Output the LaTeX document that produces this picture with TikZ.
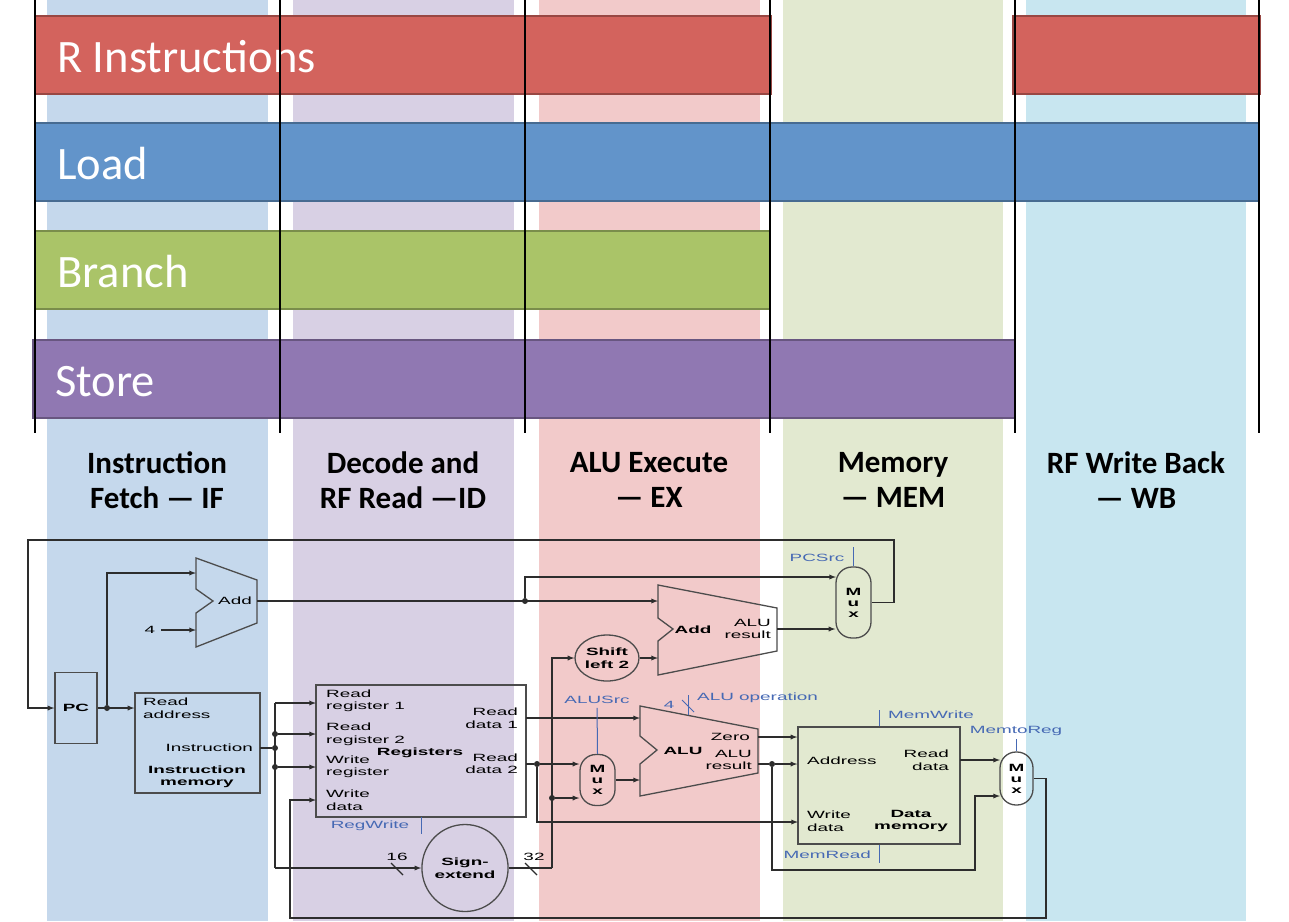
\documentclass[tikz,border=0pt]{standalone}
\usepackage{fontspec}
\setmainfont{Carlito}
\newfontfamily\dpfont[FakeStretch=1.8]{Liberation Sans}
\usetikzlibrary{shapes.geometric}
\definecolor{colIF}{RGB}{197,216,236}
\definecolor{colID}{RGB}{216,208,228}
\definecolor{colEX}{RGB}{242,202,202}
\definecolor{colMEM}{RGB}{226,233,208}
\definecolor{colWB}{RGB}{200,230,240}
\definecolor{barR}{RGB}{211,99,93}
\definecolor{barL}{RGB}{98,148,202}
\definecolor{barB}{RGB}{170,196,104}
\definecolor{barS}{RGB}{144,120,178}
\definecolor{wirecol}{RGB}{45,45,45}
\definecolor{ctrlcol}{RGB}{70,105,180}

\begin{document}
\begin{tikzpicture}[x=1pt, y=-1pt, >=latex,
	instbar/.style={draw=#1!72!black, fill=#1, line width=2.5pt},
	bartext/.style={anchor=west, text=white, inner sep=0pt, font=\fontsize{46.5}{50}\selectfont},
	stage/.style={align=center, font=\bfseries\fontsize{31}{35}\selectfont},
	dp/.style={inner sep=0pt, font=\dpfont\fontsize{10.5}{12.5}\selectfont},
	dpb/.style={dp, font=\dpfont\bfseries\fontsize{10.5}{12.5}\selectfont},
	unit/.style={draw=wirecol!85, line width=1.3pt, inner sep=0pt},
	mux/.style={unit, rounded corners=16pt, minimum width=35, minimum height=#1, align=center, font=\dpfont\bfseries\fontsize{10.5}{11}\selectfont},
	wire/.style={draw=wirecol, line width=1.3pt},
	ctrl/.style={draw=ctrlcol, line width=1pt},
	ctrltext/.style={dp, text=ctrlcol},
	dot/.style={circle, fill=wirecol, inner sep=0pt, minimum size=6pt}]
				\useasboundingbox (0,0) rectangle (1289,921);
				\fill[colIF] (47,0) rectangle (268,921);
				\fill[colID] (293,0) rectangle (514,921);
				\fill[colEX] (539,0) rectangle (760,921);
				\fill[colMEM] (783,0) rectangle (1003,921);
				\fill[colWB] (1026,0) rectangle (1246,921);
				\draw[instbar=barR] (35,16) rectangle (771,94);
				\draw[instbar=barR] (1013,16) rectangle (1260,94);
				\draw[instbar=barL] (35,123) rectangle (1259,201);
				\draw[instbar=barB] (35,231) rectangle (770,309);
				\draw[instbar=barS] (33,340) rectangle (1015,418);
				\node[bartext] (rinst) at (57,57) {R Instructions};
				\node[bartext] (load) at (57,164) {Load};
				\node[bartext] (branch) at (57,272) {Branch};
				\node[bartext] (store) at (55,382) {Store};
				\foreach \x in {35,280,525,770,1015,1259}
					\draw[line width=1.5pt] (\x,0) -- (\x,433);
				\node[stage] (hif) at (157,480) {Instruction\\Fetch — IF};
				\node[stage] (hid) at (403,480) {Decode and\\RF Read —ID};
				\node[stage] (hex) at (649,480) {ALU Execute\\— EX};
				\node[stage] (hmem) at (893,480) {Memory\\— MEM};
				\node[stage] (hwb) at (1136,480) {RF Write Back\\— WB};
				\node[unit, dpb, minimum width=42, minimum height=71] (pc) at (76,708) {PC};
				\node[unit, minimum width=125, minimum height=100] (imem) at (197.5,743) {};
				\node[dp, anchor=west, align=left] (imemra) at (143,708) {Read\\address};
				\node[dp, anchor=east] (imemin) at (253,748) {Instruction};
				\node[dpb, align=center] (imemname) at (197,777) {Instruction\\memory};
				\draw[unit] (196,558) -- (257,580) -- (257,623) -- (196,647) -- (196,613) -- (213,601) -- (196,589) -- cycle;
				\node[dp] (add1) at (235,601) {Add};
				\coordinate (add1in1) at (196,573);
				\coordinate (add1in2) at (196,630);
				\coordinate (add1out) at (257,601);
				\node[dp, inner xsep=6pt] (four) at (150,630) {4};
				\node[unit, minimum width=210, minimum height=132] (regs) at (421,751) {};
				\node[dp, anchor=west, align=left] (rr1t) at (326,701) {Read\\register 1};
				\node[dp, anchor=west, align=left] (rr2t) at (326,734.5) {Read\\register 2};
				\node[dp, anchor=west, align=left] (wrt) at (326,767) {Write\\register};
				\node[dp, anchor=west, align=left] (wdt) at (326,800) {Write\\data};
				\node[dpb] (regname) at (420,753) {Registers};
				\node[dp, anchor=east, align=right] (rd1t) at (518,718) {Read\\data 1};
				\node[dp, anchor=east, align=right] (rd2t) at (518,763.5) {Read\\data 2};
				\coordinate (rr1) at (316,703);
				\coordinate (rr2) at (316,734);
				\coordinate (wr) at (316,767);
				\coordinate (rwd) at (316,800);
				\coordinate (rd1) at (526,718);
				\coordinate (rd2) at (526,764);
				\node[unit, ellipse, dpb, align=center, minimum width=80, minimum height=87] (sext) at (465,868) {Sign-\\extend};
				\node[unit, ellipse, dpb, align=center, minimum width=64, minimum height=46] (shl) at (607,658) {Shift\\left 2};
				\draw[unit] (658,585) -- (777,608) -- (777,651) -- (658,675) -- (658,641) -- (673,629) -- (658,618) -- cycle;
				\node[dpb] (add2) at (693,630) {Add};
				\node[dp, anchor=east, align=right] (add2res) at (771,629) {ALU\\result};
				\coordinate (add2in1) at (658,601);
				\coordinate (add2in2) at (658,658);
				\coordinate (add2out) at (777,629);
				\draw[unit] (640,706) -- (758,729) -- (758,773) -- (640,796) -- (640,764) -- (657,750) -- (640,736) -- cycle;
				\node[dpb] (alu) at (683,751) {ALU};
				\node[dp, anchor=east] (zerot) at (750,737) {Zero};
				\node[dp, anchor=east, align=right] (alures) at (752,760) {ALU\\result};
				\coordinate (aluin1) at (640,718);
				\coordinate (aluin2) at (640,780);
				\coordinate (aluzero) at (758,737);
				\coordinate (aluout) at (758,764);
				\node[mux=71] (pcmux) at (853.5,602.5) {M\\u\\x};
				\node[mux=51] (srcmux) at (597.5,780) {M\\u\\x};
				\node[mux=53, minimum width=33] (wbmux) at (1016.5,778.5) {M\\u\\x};
				\coordinate (pcmuxin0) at (836,577);
				\node[unit, minimum width=162, minimum height=117] (dmem) at (879,785.5) {};
				\node[dp, anchor=west] (addrt) at (807,761) {Address};
				\node[dp, anchor=east, align=right] (dmrdt) at (949,760) {Read\\data};
				\node[dp, anchor=west, align=left] (dmwdt) at (807,821) {Write\\data};
				\node[dpb, align=center] (dmname) at (911,821) {Data\\memory};
				\coordinate (dmrd) at (960,760);
				\coordinate (dmwd) at (798,822);
				\coordinate (wbin0) at (1000,760);
				\coordinate (wbin1) at (1000,796);
				\coordinate (loopr) at (894,540);
				\coordinate (loopl) at (28,540);
				\node[dot] (pcdot) at (107,708) {};
				\node[dot] (pcpdot) at (525,601) {};
				\coordinate (instout) at (260,748);
				\node[dot] (ibus) at (275,748) {};
				\coordinate (ibtop) at (275,703);
				\coordinate (ibbot) at (275,868);
				\node[dot] (rr2dot) at (275,734) {};
				\node[dot] (wrdot) at (275,767) {};
				\coordinate (sxcorner) at (552,868);
				\node[dot] (immdot) at (552,798) {};
				\node[dot] (rd2dot) at (537,764) {};
				\node[dot] (resdot) at (772,764) {};
				\coordinate (bypc) at (975,870);
				\coordinate (wbcorner) at (1046,918);
				\coordinate (wdcorner) at (290,800);
				\draw[wire,->] (pcmux.east) -| (loopr) -- (loopl) |- (pc.west);
				\draw[wire,->] (pc.east) -- (pc.east -| imem.west);
				\draw[wire,->] (pcdot) |- (add1in1);
				\draw[wire,->] (four) -- (add1in2);
				\draw[wire,->] (add1out) -- (add2in1);
				\draw[wire,->] (pcpdot) |- (pcmuxin0);
				\draw[wire,->] (add2out) -- (add2out -| pcmux.west);
				\draw[wire] (instout) -- (ibus);
				\draw[wire] (ibtop) -- (ibbot);
				\draw[wire,->] (ibtop) -- (rr1);
				\draw[wire,->] (rr2dot) -- (rr2);
				\draw[wire,->] (wrdot) -- (wr);
				\draw[wire,->] (ibbot) -- (sext.west);
				\draw[wire] (391,863) -- (403,875);
				\node[dp] (w16) at (397,857) {16};
				\draw[wire] (sext.east) -- (sxcorner);
				\draw[wire,->] (sxcorner) |- (shl.west);
				\draw[wire] (525,863) -- (537,875);
				\node[dp] (w32) at (534,857) {32};
				\draw[wire,->] (immdot) -- (immdot -| srcmux.west);
				\draw[wire,->] (shl.east) -- (add2in2);
				\draw[wire,->] (rd1) -- (aluin1);
				\draw[wire] (rd2) -- (rd2dot);
				\draw[wire,->] (rd2dot) -- (rd2dot -| srcmux.west);
				\draw[wire,->] (rd2dot) |- (dmwd);
				\draw[wire,->] (srcmux.east) -- (aluin2);
				\draw[wire,->] (aluzero) -- (aluzero -| dmem.west);
				\draw[wire] (aluout) -- (resdot);
				\draw[wire,->] (resdot) -- (resdot -| dmem.west);
				\draw[wire,->] (resdot) |- (bypc) |- (wbin1);
				\draw[wire,->] (dmrd) -- (wbin0);
				\draw[wire,->] (wbmux.east) -| (wbcorner) -| (wdcorner) -- (rwd);
				\node[ctrltext] (pcsrc) at (817,558) {PCSrc};
				\draw[ctrl] (pcmux.north) -- ++(0,-19);
				\node[ctrltext] (alusrc) at (597,700) {ALUSrc};
				\draw[ctrl, shorten <=4pt] (alusrc.south) -- (srcmux.north);
				\coordinate (aluop) at (688,715);
				\draw[ctrl] (aluop) -- ++(0,-20);
				\draw[ctrl] (682,700) -- (694,712);
				\node[ctrltext] (opw) at (669,705) {4};
				\node[ctrltext, anchor=west] (aluopt) at (697,698) {ALU operation};
				\coordinate (rwtick) at (421,817);
				\draw[ctrl] (rwtick) -- ++(0,17);
				\node[ctrltext] (regwrite) at (370,826) {RegWrite};
				\draw[ctrl] (dmem.north) -- ++(0,-16);
				\node[ctrltext, anchor=west] (memwrite) at (888,715) {MemWrite};
				\draw[ctrl] (dmem.south) -- ++(0,18);
				\node[ctrltext, anchor=east] (memread) at (871,855) {MemRead};
				\draw[ctrl] (wbmux.north) -- ++(0,-12);
				\node[ctrltext] (memtoreg) at (1016,731) {MemtoReg};
			\end{tikzpicture}
\end{document}
